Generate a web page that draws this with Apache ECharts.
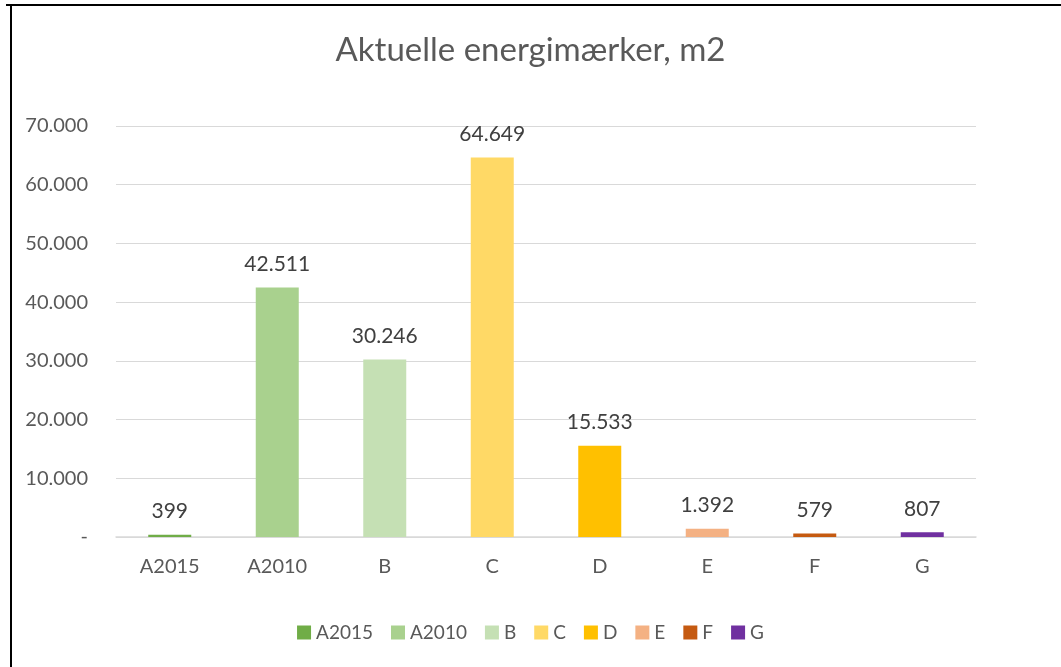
<!DOCTYPE html>
<html><head><meta charset="utf-8">
<script src="https://cdn.jsdelivr.net/npm/echarts@6/dist/echarts.min.js"></script>
<style>html,body{margin:0;padding:0;background:#fff}#c{width:1061px;height:667px}</style>
</head><body><div id="c"></div>
<script>
const categories = ['A2015','A2010','B','C','D','E','F','G'];
const values = [399, 42511, 30246, 64649, 15533, 1392, 579, 807];
const colors = ['#70ad47','#a9d18e','#c5e0b4','#ffd966','#ffc000','#f4b183','#c55a11','#7030a0'];
const titleText = 'Aktuelle energimærker, m2';

function fmt(v){
  if (v === 0) return '-';
  return String(Math.round(v)).replace(/\B(?=(\d{3})+(?!\d))/g, '.');
}
const FONT = 'Lato, "Open Sans", sans-serif';
const series = categories.map((name, i) => ({
  name: name,
  type: 'bar',
  stack: 'all',
  barWidth: '40%',
  itemStyle: { color: colors[i] },
  label: { show: true, position: 'top', distance: 13, color: '#404040', fontSize: 21, fontFamily: FONT,
           formatter: p => fmt(p.value) },
  data: categories.map((c, j) => j === i ? values[i] : '-')
}));
const chart = echarts.init(document.getElementById('c'));
chart.setOption({
  animation: false,
  backgroundColor: '#fff',
  title: { text: titleText, left: 'center', top: 29,
    textStyle: { fontSize: 33, fontWeight: 'normal', color: '#595959', fontFamily: FONT } },
  legend: { bottom: 20, left: 'center', itemWidth: 14, itemHeight: 14, itemGap: 18, icon: 'rect',
    textStyle: { fontSize: 19, color: '#595959', fontFamily: FONT } },
  grid: { left: 116, right: 85, top: 126, bottom: 130, containLabel: false },
  xAxis: { type: 'category', data: categories,
    axisLine: { lineStyle: { color: '#d9d9d9', width: 1.5 } }, axisTick: { show: false },
    axisLabel: { color: '#595959', fontSize: 20, fontFamily: FONT, margin: 20 } },
  yAxis: { type: 'value', min: 0, max: 70000, interval: 10000,
    axisLine: { show: false }, axisTick: { show: false },
    splitLine: { lineStyle: { color: '#d9d9d9', width: 1 } },
    axisLabel: { color: '#595959', fontSize: 20, fontFamily: FONT, margin: 28, formatter: v => fmt(v) } },
  series: series,
  graphic: [
    { type: 'line', shape: { x1: 6, y1: 5, x2: 1061, y2: 5 }, style: { stroke: '#000', lineWidth: 2 } },
    { type: 'line', shape: { x1: 11, y1: 5, x2: 11, y2: 667 }, style: { stroke: '#000', lineWidth: 2 } }
  ]
});
</script></body></html>
